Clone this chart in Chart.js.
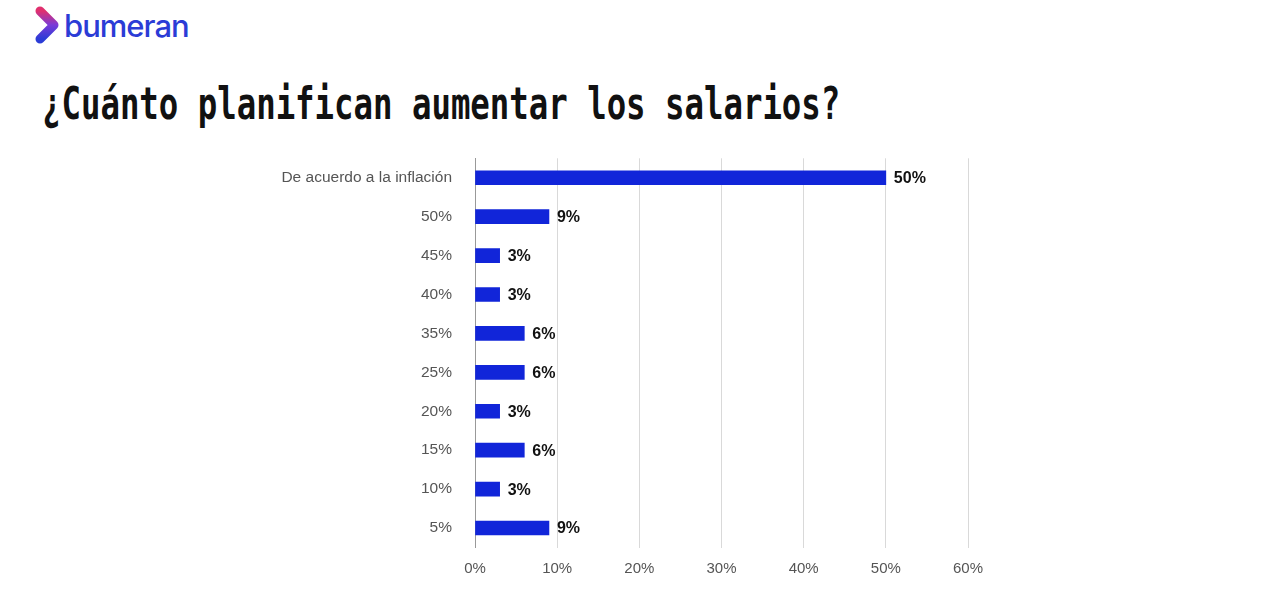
<!DOCTYPE html>
<html><head><meta charset="utf-8">
<script src="https://cdn.jsdelivr.net/npm/chart.js@4"></script>
<style>
body{margin:0;width:1280px;height:598px;background:#fff;position:relative;overflow:hidden;font-family:Roboto,sans-serif}
#logo{position:absolute;left:34px;top:6px;display:flex;align-items:center}
#logo span{font-family:Inter,sans-serif;font-size:31px;color:#2b3cd6;font-weight:500;letter-spacing:-1px;margin-left:4px}
#title{position:absolute;left:42px;top:78px;font-family:"DejaVu Sans Mono",monospace;font-weight:bold;font-size:44px;color:#111;transform:scaleX(0.735);transform-origin:left top;white-space:nowrap}
#wrap{position:absolute;left:0;top:134px;width:1280px;height:456px}
</style></head><body>
<div id="logo"><svg width="26" height="38" viewBox="0 0 26 38"><defs><linearGradient id="g" x1="0" y1="0" x2="0" y2="1"><stop offset="0" stop-color="#e0306e"/><stop offset="0.5" stop-color="#7a3bd8"/><stop offset="1" stop-color="#2b3cd6"/></linearGradient></defs><path d="M6 5 L20 19 L6 33" fill="none" stroke="url(#g)" stroke-width="9" stroke-linecap="round" stroke-linejoin="round"/></svg><span>bumeran</span></div>
<div id="title">¿Cuánto planifican aumentar los salarios?</div>
<div id="wrap"><canvas id="c"></canvas></div>
<script>
const categories = ['De acuerdo a la inflación','50%','45%','40%','35%','25%','20%','15%','10%','5%'];
const values = [50, 9, 3, 3, 6, 6, 3, 6, 3, 9];
const xTicks = [0, 10, 20, 30, 40, 50, 60];

const valueLabels = {
  id: 'valueLabels',
  afterDatasetsDraw(chart) {
    const ctx = chart.ctx;
    ctx.save();
    ctx.font = 'bold 16px Arial, "Liberation Sans", sans-serif';
    ctx.fillStyle = '#111';
    ctx.textBaseline = 'middle';
    chart.getDatasetMeta(0).data.forEach((bar, i) => {
      ctx.fillText(values[i] + '%', bar.x + 8, bar.y + 1);
    });
    ctx.restore();
  }
};

new Chart(document.getElementById('c'), {
  type: 'bar',
  data: {
    labels: categories,
    datasets: [{ data: values, backgroundColor: '#1125d9', barThickness: 14 }]
  },
  options: {
    indexAxis: 'y',
    responsive: true,
    maintainAspectRatio: false,
    animation: false,
    layout: { padding: { top: 0, right: 312, bottom: 0, left: 0 } },
    plugins: { legend: { display: false }, tooltip: { enabled: false } },
    scales: {
      x: {
        min: 0, max: 60,
        afterBuildTicks: s => { s.ticks = xTicks.map(v => ({ value: v })); },
        afterFit: s => { s.height = 42.5; },
        ticks: { color: '#555', font: { size: 15, family: 'Arial, "Liberation Sans", sans-serif' }, padding: 12, callback: v => v + '%' },
        grid: { color: '#d9d9d9', drawTicks: false },
        border: { display: false }
      },
      y: {
        afterFit: s => { s.width = 475; },
        ticks: { color: '#555', font: { size: 15.5, family: 'Arial, "Liberation Sans", sans-serif' }, padding: 15 },
        grid: { display: false },
        border: { color: '#999', width: 1 }
      }
    }
  },
  plugins: [valueLabels]
});
</script>
</body></html>
